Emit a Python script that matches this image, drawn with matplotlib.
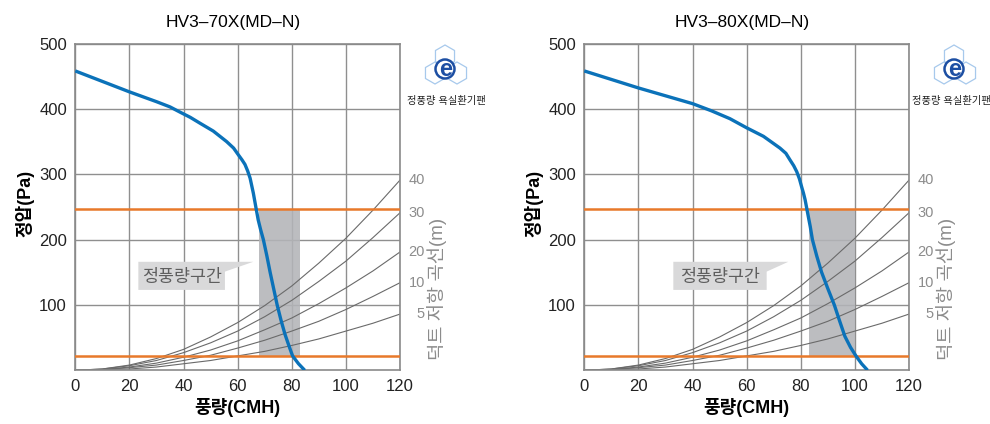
import matplotlib
matplotlib.use("Agg")
import matplotlib.pyplot as plt
from matplotlib.patches import Polygon, RegularPolygon, Circle

plt.rcParams['font.family'] = ['Liberation Sans', 'Noto Sans CJK KR', 'DejaVu Sans']

# ---- data ----
titles = ["HV3\u201370X(MD\u2013N)", "HV3\u201380X(MD\u2013N)"]

fan70_x = [0, 10, 20, 30, 35, 38.7, 42.5, 46.1, 51.0, 55.9, 58.5, 60.2, 61.6, 62.7, 63.7, 64.6,
           65.8, 66.8, 67.6, 68.5, 69.5, 70.8, 72.0, 73.3, 74.6, 76.0, 77.5, 79.0, 80.3, 82.5, 84.8]
fan70_y = [458, 442, 426, 411, 403, 395, 387, 378, 366, 350, 340, 330, 322, 315, 305, 294,
           271, 248, 230, 215, 200, 175, 150, 125, 100, 77, 55, 37, 22, 10, 0]

fan80_x = [0, 10, 20, 30, 40, 47, 53.8, 60.0, 66.2, 72.3, 74.5, 76.0, 77.4, 78.5, 79.5, 80.3,
           81.0, 81.6, 82.2, 82.8, 83.5, 84.3, 85.9, 87.7, 90.0, 92.4, 94.4, 96.3, 98.4, 100.4, 102.5, 104.7]
fan80_y = [458, 445, 432, 420, 408, 397, 385, 371, 358, 340, 332, 322, 313, 304, 293, 281,
           271, 261, 248, 235, 220, 200, 175, 150, 125, 100, 75, 52, 35, 22, 10, 0]

# constant-airflow band (CMH)
band70 = (68.0, 83.0)
band80 = (83.0, 100.0)
p_low, p_high = 22, 247

# duct resistance curves (length in m) sampled every 10 CMH
duct_x = [0, 10, 20, 30, 40, 50, 60, 70, 80, 90, 100, 110, 120]
duct_labels = ["5", "10", "20", "30", "40"]
duct_5 = [0, 1, 2, 5, 10, 15, 22, 29, 38, 48, 60, 72, 86]
duct_10 = [0, 1, 4, 8, 15, 23, 34, 46, 60, 75, 93, 113, 134]
duct_20 = [0, 1, 5, 11, 20, 31, 45, 62, 80, 102, 126, 152, 181]
duct_30 = [0, 2, 7, 15, 27, 42, 60, 82, 107, 136, 167, 203, 241]
duct_40 = [0, 2, 8, 18, 32, 51, 73, 99, 129, 164, 202, 245, 291]
duct_curves = [duct_5, duct_10, duct_20, duct_30, duct_40]

x_ticks = [0, 20, 40, 60, 80, 100, 120]
y_ticks = [100, 200, 300, 400, 500]

BLUE = "#0b72b9"
ORANGE = "#e8792a"
GRID = "#8f8f8f"


def draw_chart(ax, title, fx, fy, band, note_box):
    ax.set_xlim(0, 120)
    ax.set_ylim(0, 500)
    ax.set_xticks(x_ticks)
    ax.set_yticks(y_ticks)
    ax.tick_params(length=0, labelsize=12, colors="#222222", pad=6)
    ax.grid(True, color=GRID, lw=1.0, zorder=0)
    ax.set_axisbelow(True)
    for s in ax.spines.values():
        s.set_color("#8a8a8a")
        s.set_linewidth(1.2)

    # shaded constant airflow zone
    ax.fill_between(band, p_low, p_high, color="#b3b4b8", alpha=0.88, lw=0, zorder=1)

    # duct resistance curves
    for vals, lab in zip(duct_curves, duct_labels):
        ax.plot(duct_x, vals, color="#6a6a6a", lw=0.8, zorder=2)
        ax.text(1.077, vals[-1], lab, transform=ax.get_yaxis_transform(),
                ha="right", va="center", fontsize=10.5, color="#8c8c8c")

    ax.axhline(p_high, color=ORANGE, lw=1.8, zorder=3)
    ax.axhline(p_low, color=ORANGE, lw=1.8, zorder=3)
    ax.plot(fx, fy, color=BLUE, lw=2.4, zorder=4, solid_capstyle="butt")

    # callout label with a pointer toward the shaded band
    x0, x1, top, bot, tip = note_box
    ax.add_patch(Polygon([[x0, top], [tip, top], [x1, 151], [x1, bot], [x0, bot]],
                         closed=True, fc="#d9d9da", ec="none", zorder=2.5))
    ax.text((x0 + x1) / 2, (top + bot) / 2 - 1, "정풍량구간", ha="center", va="center",
            fontsize=12.5, color="#5e5e5e", zorder=5)

    ax.set_title(title, fontsize=12.5, pad=12, x=0.485)
    ax.text(-0.155, 0.512, "정압(Pa)", transform=ax.transAxes, rotation=90,
            ha="center", va="center", fontsize=13, fontweight="bold")
    ax.text(0.5, -0.115, "풍량(CMH)", transform=ax.transAxes,
            ha="center", va="center", fontsize=13, fontweight="bold")
    ax.text(1.114, 0.249, "덕트 저항 곡선(m)", transform=ax.transAxes, rotation=90,
            ha="center", va="center", fontsize=13.5, color="#8c8c8c")


def draw_logo(fig, left_px, top_px, text_cx):
    W, H = 990, 424
    lax = fig.add_axes([left_px / W, 1 - (top_px + 50) / H, 50 / W, 50 / H])
    lax.set_xlim(-25, 25)
    lax.set_ylim(-25, 25)
    lax.set_aspect("equal")
    lax.axis("off")
    for cx, cy in [(-1, 12), (-11, -5), (11, -5)]:
        lax.add_patch(RegularPolygon((cx, cy), 6, radius=11, orientation=0,
                                     fill=False, ec="#a7c9ec", lw=0.9))
    lax.add_patch(Circle((-1, -1), 9.5, fc="white", ec="#1d4fa3", lw=1.8))
    lax.text(-0.5, -1.5, "e", ha="center", va="center", fontsize=17,
             color="#1d4fa3", fontweight="bold")
    fig.text(text_cx / W, 1 - 101 / H, "정풍량 욕실환기팬", ha="center",
             va="center", fontsize=7.4, color="#222222")


fig = plt.figure(figsize=(9.9, 4.24), dpi=100)
ax1 = fig.add_axes([75.3 / 990, 1 - 370.3 / 424, 324.7 / 990, 326.8 / 424])
ax2 = fig.add_axes([584.3 / 990, 1 - 370.3 / 424, 324.7 / 990, 326.8 / 424])

draw_chart(ax1, titles[0], fan70_x, fan70_y, band70, (23.3, 55.3, 166, 123, 65.8))
draw_chart(ax2, titles[1], fan80_x, fan80_y, band80, (32.9, 67.4, 166, 123, 75.4))

draw_logo(fig, 421, 43, 446)
draw_logo(fig, 930, 43, 951)

fig.savefig("out.png", dpi=100)
